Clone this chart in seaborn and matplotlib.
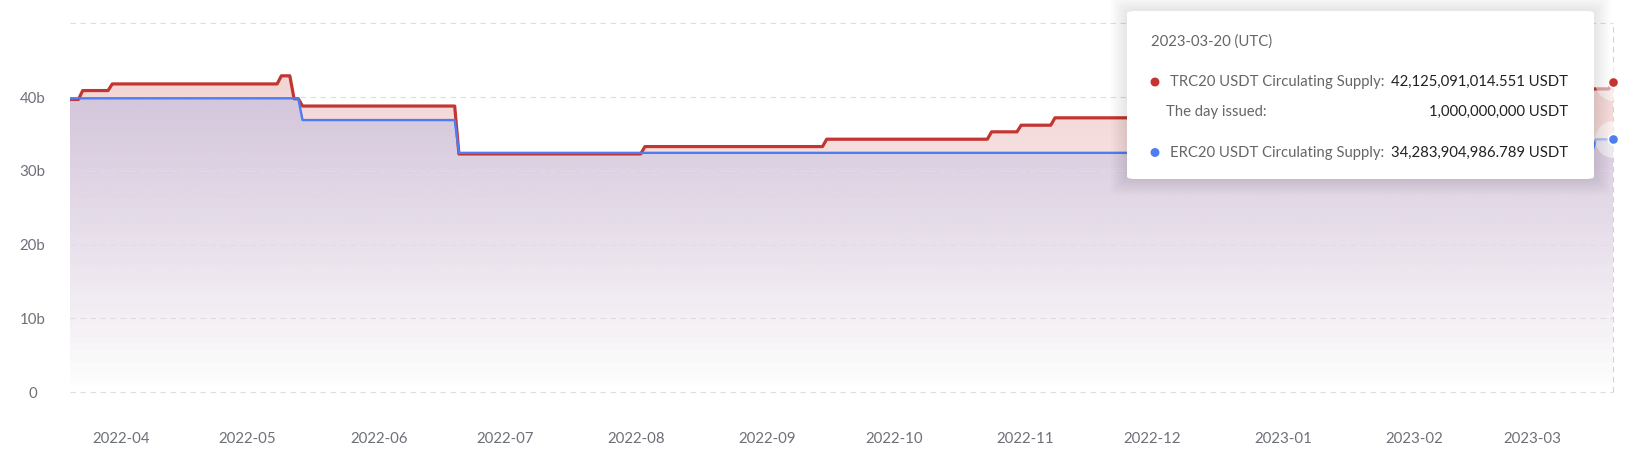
import numpy as np
import pandas as pd
import seaborn as sns
import matplotlib.pyplot as plt
import matplotlib.dates as mdates
from matplotlib.colors import to_rgb
from matplotlib.patches import FancyBboxPatch, Ellipse


# step changes of circulating supply (billions USDT), date = first day at new level
trc20_dates = ["2022-03-20", "2022-03-23", "2022-03-30", "2022-05-09", "2022-05-12",
               "2022-05-14", "2022-06-20", "2022-08-03", "2022-09-15", "2022-10-24",
               "2022-10-31", "2022-11-08", "2022-12-05", "2023-01-10", "2023-02-08",
               "2023-03-01", "2023-03-20"]
trc20_values = [39.7, 40.9, 41.8, 42.9, 39.8,
                38.8, 32.3, 33.3, 34.3, 35.3,
                36.2, 37.2, 38.2, 39.2, 40.1,
                41.125, 42.125]

erc20_dates = ["2022-03-20", "2022-05-14", "2022-06-20", "2023-03-16"]
erc20_values = [39.85, 36.9, 32.45, 34.284]

month_ticks = ["2022-04", "2022-05", "2022-06", "2022-07", "2022-08", "2022-09",
               "2022-10", "2022-11", "2022-12", "2023-01", "2023-02", "2023-03"]
y_ticks = [0, 10, 20, 30, 40, 50]
y_labels = ["0", "10b", "20b", "30b", "40b", ""]

start, end = "2022-03-20", "2023-03-20"
tooltip_date = "2023-03-20 (UTC)"
tooltip_rows = [("TRC20 USDT Circulating Supply:", "42,125,091,014.551 USDT"),
                ("The day issued:", "1,000,000,000 USDT"),
                ("ERC20 USDT Circulating Supply:", "34,283,904,986.789 USDT")]

RED = "#c23531"
BLUE = "#4e7df2"
GRID = "#dcdde6"
TEXT = "#6e7079"

days = pd.date_range(start, end, freq="D")


def daily(dates, values):
    s = pd.Series(values, index=pd.to_datetime(dates))
    return s.reindex(days).ffill()


df = pd.DataFrame({
    "date": days,
    "TRC20": daily(trc20_dates, trc20_values).values,
    "ERC20": daily(erc20_dates, erc20_values).values,
})
long_df = df.melt(id_vars="date", var_name="chain", value_name="supply")

sns.set_theme(style="white")
plt.rcParams["font.family"] = ["Lato", "DejaVu Sans"]

W, H = 1636, 470
fig = plt.figure(figsize=(W / 100, H / 100), dpi=100)
ax = fig.add_axes([70 / W, 78 / H, (1613 - 70) / W, (392 - 23.5) / H])


def grad_fill(x, y, color, alpha_top, z):
    poly = ax.fill_between(x, y, 0, facecolor="none", edgecolor="none")
    img = np.zeros((200, 1, 4))
    img[:, :, :3] = to_rgb(color)
    img[:, 0, 3] = np.linspace(alpha_top, 0.0, 200)
    xn = mdates.date2num(x)
    im = ax.imshow(img, aspect="auto", origin="upper", zorder=z,
                   extent=[xn[0], xn[-1], 0, float(np.max(y))])
    im.set_clip_path(poly.get_paths()[0], transform=ax.transData)


grad_fill(df["date"], df["TRC20"].values, RED, 0.21, 1)
grad_fill(df["date"], df["ERC20"].values, BLUE, 0.19, 1.1)

sns.lineplot(data=long_df, x="date", y="supply", hue="chain", size="chain",
             sizes={"TRC20": 2.3, "ERC20": 1.7},
             palette={"TRC20": RED, "ERC20": BLUE}, legend=False, ax=ax, zorder=3)

# grid
for v in y_ticks:
    ax.axhline(v, color=GRID, lw=0.8, dashes=(5, 4), zorder=1.5, clip_on=False)
last = pd.Timestamp(end)
ax.plot([last, last], [0, 50], color="#d0d3da", lw=0.8, dashes=(5, 4), zorder=2,
        clip_on=False)

ax.set_xlim(pd.Timestamp(start), last)
ax.set_ylim(0, 50)
ax.set_xticks(pd.to_datetime(month_ticks))
ax.set_xticklabels(month_ticks)
ax.set_yticks(y_ticks)
ax.set_yticklabels(y_labels)
ax.tick_params(axis="x", length=0, pad=28.5, labelsize=10.8, labelcolor=TEXT)
ax.tick_params(axis="y", length=0, pad=27, labelsize=10.8, labelcolor=TEXT)
for lab in ax.get_yticklabels():
    lab.set_horizontalalignment("center")
ax.set_xlabel("")
ax.set_ylabel("")
ax.grid(False)
for sp in ax.spines.values():
    sp.set_visible(False)

# end markers with halo
for col, c in [("TRC20", RED), ("ERC20", BLUE)]:
    yv = df[col].iloc[-1]
    ax.scatter([last], [yv], s=700, color="white", alpha=0.55, zorder=4,
               clip_on=False, linewidths=0)
    ax.scatter([last], [yv], s=55, color=c, edgecolor="white", linewidths=1.2,
               zorder=5, clip_on=False)


# tooltip (pixel coords from top-left)
def fx(px):
    return px / W


def fy(py):
    return 1 - py / H


bx0, by0, bx1, by1 = 1127, 11, 1594, 179
for i in range(8, 0, -1):
    fig.patches.append(FancyBboxPatch(
        (fx(bx0 - i * 2), fy(by1 + i * 2)), fx(bx1 - bx0 + i * 4), (by1 - by0 + i * 4) / H,
        boxstyle="round,pad=0,rounding_size=0.008", transform=fig.transFigure,
        facecolor="black", edgecolor="none", alpha=0.012, zorder=9))
fig.patches.append(FancyBboxPatch(
    (fx(bx0), fy(by1)), fx(bx1 - bx0), (by1 - by0) / H,
    boxstyle="round,pad=0,rounding_size=0.005", transform=fig.transFigure,
    facecolor="white", edgecolor="none", zorder=10))

fig.text(fx(1151), fy(41.5), tooltip_date, fontsize=10.7, color="#666666",
         va="center", ha="left", zorder=11)
row_y = [82, 112, 152.5]
row_x = [1170, 1166.5, 1170]
dots = [RED, None, BLUE]
for (lab, val), yy, xx, dc in zip(tooltip_rows, row_y, row_x, dots):
    if dc:
        fig.patches.append(Ellipse((fx(1155), fy(yy)), 7.5 / W, 7.5 / H, color=dc,
                                   transform=fig.transFigure, zorder=11))
    fig.text(fx(xx), fy(yy), lab, fontsize=10.7, color="#666666", va="center",
             ha="left", zorder=11)
    fig.text(fx(1568), fy(yy), val, fontsize=10.7, color="#222222", va="center",
             ha="right", zorder=11)

fig.savefig("out.png", dpi=100)
